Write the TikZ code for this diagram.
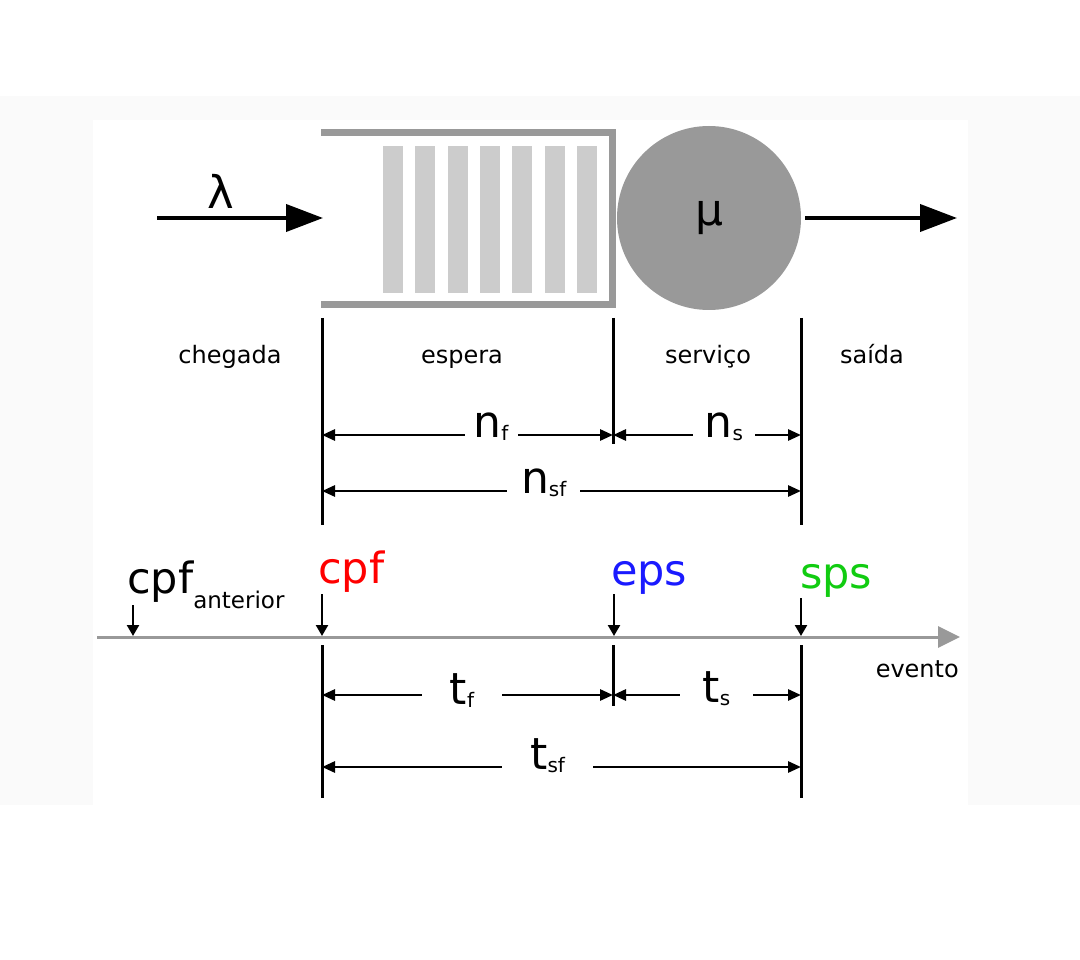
\documentclass[tikz,border=0pt]{standalone}
\usepackage{fontspec}
\setmainfont{DejaVu Sans}
\usetikzlibrary{arrows.meta,positioning,calc}
\definecolor{band}{HTML}{FAFAFA}
\definecolor{wall}{HTML}{999999}
\definecolor{slot}{HTML}{CCCCCC}
\definecolor{cpfred}{HTML}{FF0000}
\definecolor{epsblue}{HTML}{1A1AFF}
\definecolor{spsgreen}{HTML}{11CC11}
\newcommand{\fsz}[1]{\fontsize{#1}{#1}\selectfont}
\newcommand{\lowsub}[1]{\raisebox{-3pt}{\fsz{20}#1}}
\newcommand{\antsub}[1]{\raisebox{-15pt}{\fsz{23}#1}}
\tikzset{
  flowarr/.style={-{Triangle[length=37pt,width=27pt]},line width=4pt},
  dimarr/.style={{Triangle[length=13pt,width=11pt]}-{Triangle[length=13pt,width=11pt]},line width=2.8pt},
  dropped/.style={-{Triangle[length=11pt,width=12pt]},line width=2.4pt},
  axisarr/.style={-{Triangle[length=22pt,width=21pt]},line width=3pt,color=wall},
  bound/.style={line width=3pt},
  dimlabel/.style={fill=white,anchor=base,inner ysep=3pt,font=\fsz{44}},
  phase/.style={anchor=base,inner sep=0pt,font=\fsz{24}},
  evlabel/.style={anchor=base west,inner sep=0pt,font=\fsz{43}},
  server/.style={circle,fill=wall,minimum size=184pt,inner sep=0pt,font=\fsz{44}}
}

\begin{document}
\begin{tikzpicture}[x=1pt,y=-1pt]
  \useasboundingbox (0,0) rectangle (1080,960);
  \fill[white] (0,0) rectangle (1080,960);
  \fill[band] (0,96) rectangle (1080,805);
  \fill[white] (93,120) rectangle (968,805);

  % fila e servidor
  \draw[wall,line width=7pt] (321,133) -- (612,133) -- (612,305) -- (321,305);
  \foreach \i in {0,...,6}
    \fill[slot] (383+32.3*\i,146) rectangle ++(20,147);
  \node[server] (srv) at (709,218) {μ};
  \node[font=\fsz{45}] (lam) at (221,191) {λ};
  \coordinate (lamstart) at (157,218);
  \coordinate (qin) at (323,218);
  \coordinate (exit) at (957,218);
  \draw[flowarr] (lamstart) -- (qin);
  \draw[flowarr] ([xshift=4pt]srv.east) -- (exit);

  \draw[bound] (322,318) -- (322,525);
  \draw[bound] (613,318) -- (613,444);
  \draw[bound] (801,318) -- (801,525);
  \node[phase] (chegada) at (230,363) {chegada};
  \node[phase] (espera) at (462,363) {espera};
  \node[phase] (servico) at (708,363) {serviço};
  \node[phase] (saida) at (872,363) {saída};

  \coordinate (nfA) at (322,435);
  \coordinate (nfB) at (613,435);
  \coordinate (nsB) at (801,435);
  \coordinate (nsfA) at (322,491);
  \coordinate (nsfB) at (801,491);
  \draw[dimarr] (nfA) -- node[dimlabel,pos=.581,inner xsep=9pt,yshift=-2pt] (nf) {n\lowsub{f}} (nfB);
  \draw[dimarr] (nfB) -- node[dimlabel,pos=.59,inner xsep=12pt,yshift=-2pt] (ns) {n\lowsub{s}} (nsB);
  \draw[dimarr] (nsfA) -- node[dimlabel,pos=.463,inner xsep=14pt,yshift=-2pt] (nsf) {n\lowsub{sf}} (nsfB);

  % eixo de eventos
  \coordinate (axA) at (97,637);
  \coordinate (axB) at (960,637);
  \draw[axisarr] (axA) -- (axB);
  \node[phase,anchor=base east] (evento) at (959,677) {evento};
  \node[evlabel] (antlab) at (127,593) {cpf\antsub{anterior}};
  \node[evlabel,text=cpfred] (cpflab) at (318,583) {cpf};
  \node[evlabel,text=epsblue] (epslab) at (611,585) {eps};
  \node[evlabel,text=spsgreen] (spslab) at (800,588) {sps};
  \foreach \nm/\x/\y in {ant/133/605, cpf/322/594, eps/614/594, sps/801/598}{
    \coordinate (\nm T) at (\x,\y);
    \coordinate (\nm B) at (\x,636);
    \draw[dropped] (\nm T) -- (\nm B);
  }

  \draw[bound] (322,645) -- (322,798);
  \draw[bound] (613,645) -- (613,706);
  \draw[bound] (801,645) -- (801,798);
  \coordinate (tfA) at (322,695);
  \coordinate (tfB) at (613,695);
  \coordinate (tsB) at (801,695);
  \coordinate (tsfA) at (322,767);
  \coordinate (tsfB) at (801,767);
  \draw[dimarr] (tfA) -- node[dimlabel,pos=.481,inner xsep=28pt,yshift=-9pt] (tf) {t\lowsub{f}} (tfB);
  \draw[dimarr] (tfB) -- node[dimlabel,pos=.55,inner xsep=23pt,yshift=-7pt] (ts) {t\lowsub{s}} (tsB);
  \draw[dimarr] (tsfA) -- node[dimlabel,pos=.471,inner xsep=28pt,yshift=-2pt] (tsf) {t\lowsub{sf}} (tsfB);
\end{tikzpicture}
\end{document}
